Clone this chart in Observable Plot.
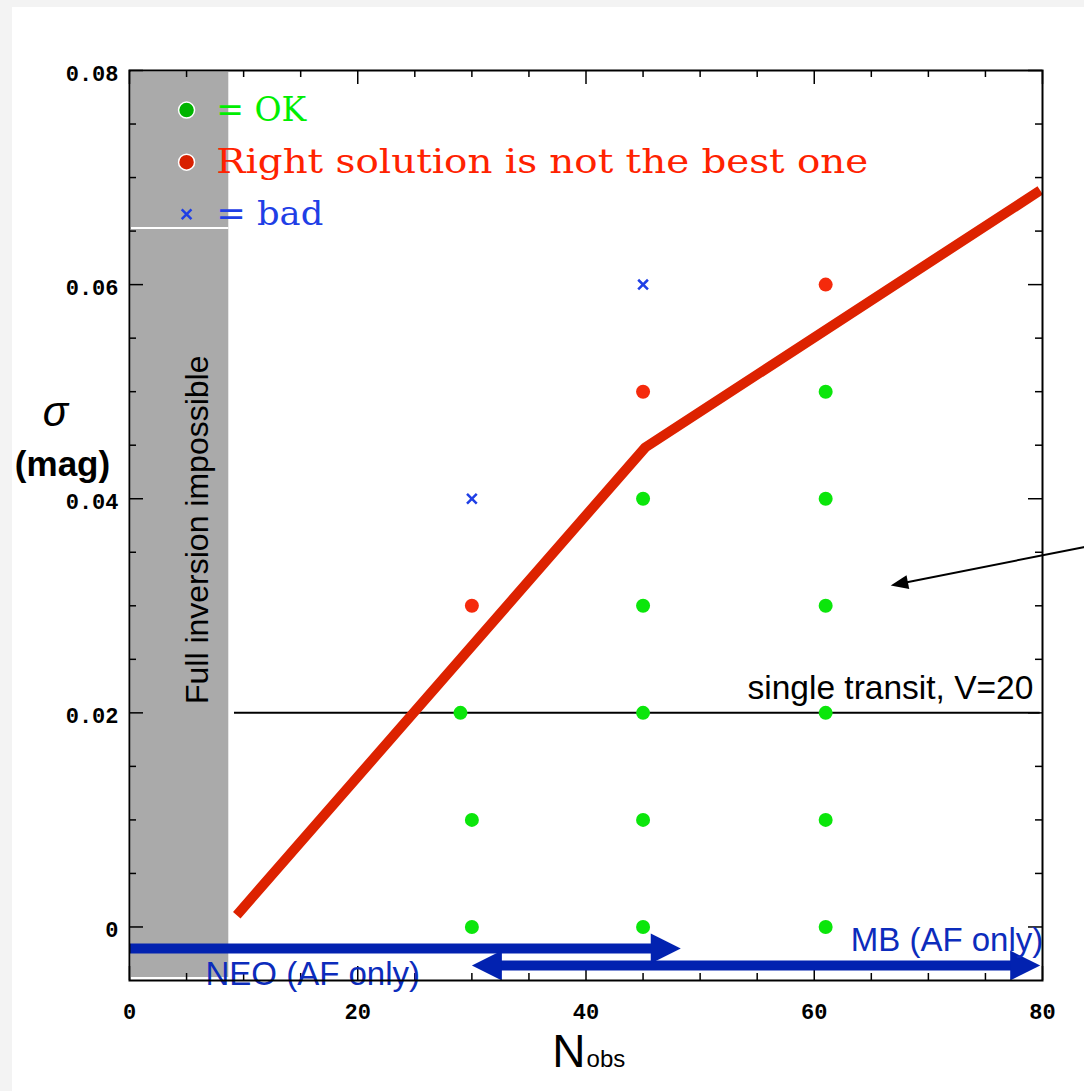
<!DOCTYPE html>
<html><head><meta charset="utf-8">
<script src="https://cdn.jsdelivr.net/npm/d3@7"></script>
<script src="https://cdn.jsdelivr.net/npm/@observablehq/plot@0.6"></script>
<style>
html,body{margin:0;padding:0;background:#f3f3f3;}
#chart{position:absolute;left:12px;top:7px;width:1072px;height:1084px;background:#fff;}
#chart svg{display:block;}
</style></head><body><div id="chart"></div>
<script>
// ---------------- data ----------------
const okX = [30, 30, 29, 45, 45, 45, 45, 45, 61, 61, 61, 61, 61, 61];
const okY = [0, 0.01, 0.02, 0, 0.01, 0.02, 0.03, 0.04, 0, 0.01, 0.02, 0.03, 0.04, 0.05];
const notBestX = [30, 45, 61];
const notBestY = [0.03, 0.05, 0.06];
const badX = [30, 45];
const badY = [0.04, 0.06];
const limitX = [9.4, 45.2, 79.8];
const limitY = [0.0011, 0.0448, 0.0688];
const transitSigma = 0.02;
const transitRange = [9.2, 79.8];
const transitLabel = "single transit, V=20";
const noInversionMax = 8.7;
const noInversionLabel = "Full inversion impossible";
const neoRange = [0, 48.3];
const mbRange = [30, 79.8];
const neoLabel = "NEO (AF only)";
const mbLabel = "MB (AF only)";
const legendLabels = ["= OK", "Right solution is not the best one", "= bad"];
const xTicks = [0, 20, 40, 60, 80];
const xMinor = [5, 10, 15, 25, 30, 35, 45, 50, 55, 65, 70, 75];
const yTicks = [0, 0.02, 0.04, 0.06, 0.08];
const yMinor = [0.005, 0.01, 0.015, 0.025, 0.03, 0.035, 0.045, 0.05, 0.055, 0.065, 0.07, 0.075];
const xLabel = ["N", "obs"];
const yLabel = ["σ", "(mag)"];
const calloutFrom = {x: 83.7, y: 0.0355};
const calloutTo = {x: 66.7, y: 0.0319};

// ---------------- layout ----------------
const W = 1072, H = 1084, mL = 117, mR = 42, mT = 63, mB = 111;
const xDom = [0, 80], yDom = [-0.005, 0.08];
const pw = W - mL - mR, ph = H - mT - mB;
const kx = pw / (xDom[1] - xDom[0]), ky = ph / (yDom[1] - yDom[0]);
const GREEN = "#0be60b", RED = "#f52a0c", LINE_RED = "#dd2200", BLUE_X = "#1f3fe6", NAVY = "#0222b0";
const SANS = "Liberation Sans, Arial, sans-serif", MONO = "Liberation Mono, Courier New, monospace";
const SERIF = "DejaVu Serif, Liberation Serif, serif";

const ok = okX.map((x, i) => ({x, y: okY[i]}));
const notBest = notBestX.map((x, i) => ({x, y: notBestY[i]}));
const bad = badX.map((x, i) => ({x, y: badY[i]}));
const limit = limitX.map((x, i) => ({x, y: limitY[i]}));

const head = ratio => ({draw(ctx, size) {
  const r = Math.sqrt(size / Math.PI);
  ctx.moveTo(0, 0); ctx.lineTo(-ratio * r, -r); ctx.lineTo(-ratio * r, r); ctx.closePath();
}});

// blue range arrows
const neoY = -0.002, mbY = -0.0036, blueHead = 30;
const blueShafts = [
  {x1: neoRange[0], x2: neoRange[1] - 18 / kx, y: neoY},
  {x1: mbRange[0] + 18 / kx, x2: mbRange[1] - 18 / kx, y: mbY}
];
const blueHeads = [
  {x: neoRange[1], y: neoY, rot: 0},
  {x: mbRange[0], y: mbY, rot: 180},
  {x: mbRange[1], y: mbY, rot: 0}
];

// callout arrow
const dxp = (calloutTo.x - calloutFrom.x) * kx, dyp = -(calloutTo.y - calloutFrom.y) * ky;
const len = Math.hypot(dxp, dyp), ux = dxp / len, uy = dyp / len;
const calloutAngle = Math.atan2(dyp, dxp) * 180 / Math.PI;
const calloutLink = [{x1: calloutFrom.x, y1: calloutFrom.y, x2: calloutTo.x - 14 * ux / kx, y2: calloutTo.y + 14 * uy / ky}];

// legend
const legend = legendLabels.map((t, i) => ({t, x: 5, tx: 7.6, y: 0.0763 - i * 0.00486}));
const legendColors = ["#00ee00", "#ff2200", "#1f3fe6"];
const legendLengths = {"= OK": 90, "Right solution is not the best one": 652, "= bad": 107};

const fmtY = d => d === 0 ? "0" : d.toFixed(2);

const svg = Plot.plot({
  width: W, height: H,
  marginLeft: mL, marginRight: mR, marginTop: mT, marginBottom: mB,
  x: {domain: xDom, axis: null},
  y: {domain: yDom, axis: null},
  style: {background: "transparent", overflow: "visible"},
  marks: [
    // gray band
    Plot.rect([0], {x1: xDom[0], x2: noInversionMax, y1: yDom[0], y2: yDom[1], fill: "#aaaaaa", insetLeft: 2, insetTop: 2, insetBottom: 3}),
    Plot.ruleY([0.0653], {x1: xDom[0], x2: noInversionMax, stroke: "white", strokeWidth: 2, insetLeft: 2}),
    Plot.text([noInversionLabel], {x: 6.0, y: 0.0371, rotate: -90, text: d => d, fontSize: 32, fontFamily: SANS, fill: "black"}),

    // ticks (inward)
    Plot.tickX(xMinor, {x: d => d, insetTop: ph - 7, stroke: "black", strokeWidth: 1.5}),
    Plot.tickX(xTicks, {x: d => d, insetTop: ph - 14, stroke: "black", strokeWidth: 1.5}),
    Plot.tickX(xMinor, {x: d => d, insetBottom: ph - 7, stroke: "black", strokeWidth: 1.5}),
    Plot.tickX(xTicks, {x: d => d, insetBottom: ph - 14, stroke: "black", strokeWidth: 1.5}),
    Plot.tickY(yMinor, {y: d => d, insetRight: pw - 7, stroke: "black", strokeWidth: 1.5}),
    Plot.tickY(yTicks, {y: d => d, insetRight: pw - 14, stroke: "black", strokeWidth: 1.5}),
    Plot.tickY(yMinor, {y: d => d, insetLeft: pw - 7, stroke: "black", strokeWidth: 1.5}),
    Plot.tickY(yTicks, {y: d => d, insetLeft: pw - 14, stroke: "black", strokeWidth: 1.5}),

    // tick labels
    Plot.text(yTicks, {y: d => d, text: fmtY, frameAnchor: "left", dx: -11, dy: 3, textAnchor: "end", lineAnchor: "middle", fontFamily: MONO, fontWeight: "bold", fontSize: 22, fill: "black"}),
    Plot.text(xTicks, {x: d => d, text: d => String(d), frameAnchor: "bottom", dy: 23, lineAnchor: "top", fontFamily: MONO, fontWeight: "bold", fontSize: 22, fill: "black"}),

    // axis titles
    Plot.text([yLabel[0]], {y: 0.04675, text: d => d, frameAnchor: "left", dx: -74, textAnchor: "middle", lineAnchor: "bottom", fontFamily: SANS, fontStyle: "italic", fontSize: 42, fill: "black"}),
    Plot.text([yLabel[1]], {y: 0.04217, text: d => d, frameAnchor: "left", dx: -67, textAnchor: "middle", lineAnchor: "bottom", fontFamily: SANS, fontWeight: "bold", fontSize: 35, fill: "black"}),
    Plot.text([xLabel[0]], {x: 39.96, text: d => d, frameAnchor: "bottom", dy: 86, textAnchor: "end", lineAnchor: "bottom", fontFamily: SANS, fontSize: 46, fill: "black"}),
    Plot.text([xLabel[1]], {x: 39.96, text: d => d, frameAnchor: "bottom", dy: 86, dx: 1, textAnchor: "start", lineAnchor: "bottom", fontFamily: SANS, fontSize: 24, fill: "black"}),

    // single transit line
    Plot.ruleY([transitSigma], {x1: transitRange[0], x2: transitRange[1], stroke: "black", strokeWidth: 2}),
    Plot.text([transitLabel], {x: 79.2, y: 0.02134, text: d => d, textAnchor: "end", lineAnchor: "bottom", fontFamily: SANS, fontSize: 33.5, fill: "black"}),

    // limit line
    Plot.line(limit, {x: "x", y: "y", stroke: LINE_RED, strokeWidth: 10, strokeLinecap: "butt", strokeLinejoin: "miter"}),

    // data points
    Plot.dot(ok, {x: "x", y: "y", r: 7, fill: GREEN, stroke: "none"}),
    Plot.dot(notBest, {x: "x", y: "y", r: 7, fill: RED, stroke: "none"}),
    Plot.dot(bad, {x: "x", y: "y", r: 4.5, symbol: "times", stroke: BLUE_X, strokeWidth: 2.5}),

    // legend
    Plot.dot(legend.slice(0, 2), {x: "x", y: "y", r: 8, fill: (d, i) => ["#00b400", "#d82000"][i], stroke: "white", strokeWidth: 1.5}),
    Plot.dot(legend.slice(2), {x: "x", y: "y", r: 4.5, symbol: "times", stroke: BLUE_X, strokeWidth: 2.5}),
    Plot.text(legend, {x: "tx", y: "y", text: "t", textAnchor: "start", lineAnchor: "middle", fontFamily: SERIF, fontSize: 34, fill: (d, i) => legendColors[i]}),

    // callout arrow
    Plot.link(calloutLink, {x1: "x1", y1: "y1", x2: "x2", y2: "y2", stroke: "black", strokeWidth: 2}),
    Plot.dot([calloutTo], {x: "x", y: "y", r: 7, symbol: head(2.5), rotate: calloutAngle, fill: "black", stroke: "none"}),

    // blue range arrows
    Plot.ruleY(blueShafts, {x1: "x1", x2: "x2", y: "y", stroke: NAVY, strokeWidth: 10}),
    Plot.dot(blueHeads, {x: "x", y: "y", r: blueHead / 2, symbol: head(2), rotate: "rot", fill: NAVY, stroke: "none"}),
    Plot.text([neoLabel], {x: 6.66, y: -0.00546, text: d => d, textAnchor: "start", lineAnchor: "bottom", fontFamily: SANS, fontSize: 33, fill: "#0c2cbc"}),
    Plot.text([mbLabel], {x: 63.2, y: -0.0022, text: d => d, textAnchor: "start", lineAnchor: "bottom", fontFamily: SANS, fontSize: 33, fill: "#0c2cbc"}),

    Plot.frame({stroke: "black", strokeWidth: 2})
  ]
});

d3.select(svg).selectAll("text").each(function () {
  const t = this.textContent;
  if (legendLengths[t]) {
    this.setAttribute("textLength", legendLengths[t]);
    this.setAttribute("lengthAdjust", "spacingAndGlyphs");
  }
});

document.getElementById("chart").appendChild(svg);
</script>
</body></html>
